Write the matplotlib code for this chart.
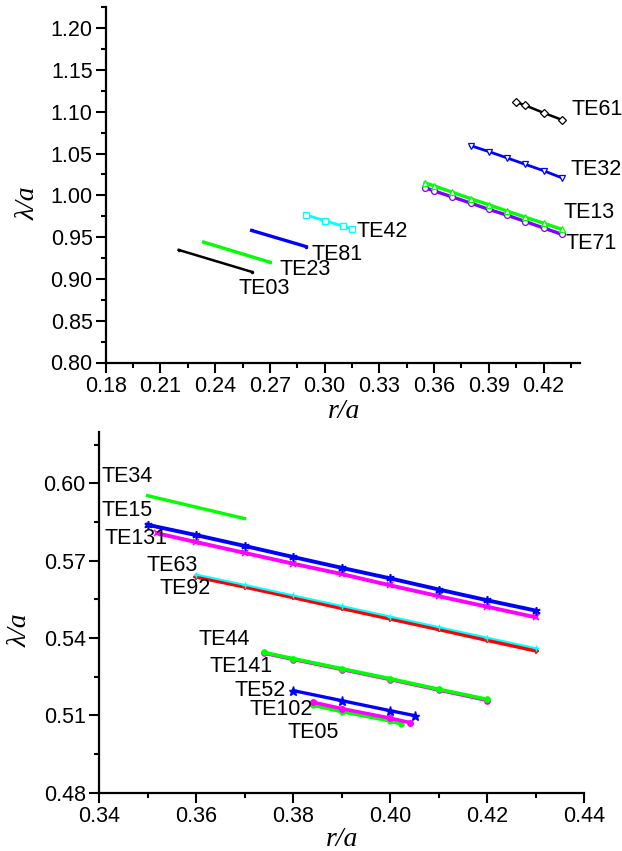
import matplotlib
matplotlib.use("Agg")
import matplotlib.pyplot as plt
from matplotlib.ticker import MultipleLocator, FormatStrFormatter

# ---------------- top panel data ----------------
te03_x = [0.22, 0.26]
te03_y = [0.9347, 0.9085]
te23_x = [0.2337, 0.27]
te23_y = [0.944, 0.920]
te81_x = [0.26, 0.29]
te81_y = [0.958, 0.9386]
te42_x = [0.29, 0.30, 0.31, 0.315]
te42_y = [0.9765, 0.9697, 0.9633, 0.9597]
te61_x = [0.405, 0.41, 0.42, 0.43]
te61_y = [1.1116, 1.1076, 1.0988, 1.0904]
te32_x = [0.38, 0.39, 0.40, 0.41, 0.42, 0.43]
te32_y = [1.0595, 1.0524, 1.0448, 1.0371, 1.0295, 1.0210]
te13_x = [0.355, 0.36, 0.37, 0.38, 0.39, 0.40, 0.41, 0.42, 0.43]
te13_y = [1.0150, 1.0114, 1.0037, 0.9961, 0.9888, 0.9812, 0.9739, 0.9667, 0.9594]
te71_x = [0.355, 0.36, 0.37, 0.38, 0.39, 0.40, 0.41, 0.42, 0.43]
te71_y = [1.0093, 1.0053, 0.9981, 0.9908, 0.9832, 0.9763, 0.9687, 0.9610, 0.9534]

top_labels = ["TE61", "TE32", "TE13", "TE71", "TE42", "TE81", "TE23", "TE03"]
top_label_x = [0.4352, 0.4346, 0.4311, 0.4322, 0.3174, 0.2929, 0.2750, 0.2526]
top_label_y = [1.103, 1.0304, 0.980, 0.9419, 0.9568, 0.9298, 0.9109, 0.8884]

# ---------------- bottom panel data ----------------
te34_x = [0.35, 0.37]
te34_y = [0.5952, 0.5863]
te15_x = [0.35, 0.36, 0.37, 0.38, 0.39, 0.40, 0.41, 0.42, 0.43]
te15_y = [0.5839, 0.5799, 0.5757, 0.5714, 0.5672, 0.5631, 0.5588, 0.5546, 0.5506]
te131_x = [0.352, 0.36, 0.37, 0.38, 0.39, 0.40, 0.41, 0.42, 0.43]
te131_y = [0.5806, 0.5772, 0.5730, 0.5688, 0.5648, 0.5604, 0.5562, 0.5521, 0.5480]
te63_x = [0.36, 0.37, 0.38, 0.39, 0.40, 0.41, 0.42, 0.43]
te63_y = [0.5646, 0.5606, 0.5565, 0.5524, 0.5483, 0.5442, 0.5401, 0.5360]
te92_x = [0.36, 0.37, 0.38, 0.39, 0.40, 0.41, 0.42, 0.43]
te92_y = [0.5638, 0.5599, 0.5558, 0.5516, 0.5475, 0.5434, 0.5392, 0.5351]
te44_x = [0.374, 0.38, 0.39, 0.40, 0.41, 0.42]
te44_y = [0.5344, 0.5320, 0.5281, 0.5242, 0.5201, 0.5162]
te141_x = [0.374, 0.38, 0.39, 0.40, 0.41, 0.42]
te141_y = [0.5340, 0.5316, 0.5277, 0.5238, 0.5197, 0.5157]
te52_x = [0.38, 0.39, 0.40, 0.405]
te52_y = [0.5196, 0.5157, 0.5118, 0.5099]
te102_x = [0.384, 0.39, 0.40, 0.404]
te102_y = [0.5151, 0.5126, 0.5089, 0.5072]
te05_x = [0.384, 0.39, 0.40, 0.4023]
te05_y = [0.5139, 0.5114, 0.5078, 0.5066]

bot_labels = ["TE34", "TE15", "TE131", "TE63", "TE92", "TE44", "TE141", "TE52", "TE102", "TE05"]
bot_label_x = [0.3406, 0.3406, 0.3412, 0.3498, 0.3524, 0.3605, 0.3627, 0.3680, 0.3711, 0.3788]
bot_label_y = [0.6028, 0.5893, 0.5784, 0.5682, 0.5593, 0.5395, 0.5289, 0.5198, 0.5121, 0.5033]

SANS = "Liberation Sans"
SERIF = "Liberation Serif"
TXT = 15.5

fig = plt.figure(figsize=(6.22, 8.51), dpi=100)
W, H = 622.0, 851.0


def style_axes(ax):
    for s in ("top", "right"):
        ax.spines[s].set_visible(False)
    for s in ("left", "bottom"):
        ax.spines[s].set_linewidth(1.6)
    ax.tick_params(which="major", direction="out", length=7, width=1.5,
                   labelsize=TXT, pad=2.5)
    ax.tick_params(which="minor", direction="out", length=3.5, width=1.5)
    for lab in ax.get_xticklabels() + ax.get_yticklabels():
        lab.set_fontfamily(SANS)


# ---------------- top axes ----------------
ax1 = fig.add_axes([105.7 / W, 1 - 362.5 / H, (580 - 105.7) / W, (362.5 - 7.3) / H])
ax1.set_xlim(0.18, 0.44)
ax1.set_ylim(0.80, 1.225)
ax1.xaxis.set_major_locator(MultipleLocator(0.03))
ax1.xaxis.set_minor_locator(MultipleLocator(0.015))
ax1.yaxis.set_major_locator(MultipleLocator(0.05))
ax1.yaxis.set_minor_locator(MultipleLocator(0.025))
ax1.xaxis.set_major_formatter(FormatStrFormatter("%.2f"))
ax1.yaxis.set_major_formatter(FormatStrFormatter("%.2f"))

ax1.plot(te03_x, te03_y, color="black", lw=1.8, marker="o", ms=1.5)
ax1.plot(te23_x, te23_y, color="#00ff00", lw=2.4, marker="o", ms=1.5)
ax1.plot(te81_x, te81_y, color="#0000ff", lw=2.4, marker="o", ms=1.5)
ax1.plot(te42_x, te42_y, color="#00ffff", lw=2.0, marker="s", ms=4.5, mfc="white", mew=1.0)
ax1.plot(te61_x, te61_y, color="black", lw=1.8, marker="D", ms=4, mfc="white", mew=0.9)
ax1.plot(te32_x, te32_y, color="#0000ff", lw=2.0, marker="v", ms=4.5, mfc="white", mew=0.9)
ax1.plot(te71_x, te71_y, color="#8000ff", lw=2.4, marker="o", ms=4.2, mfc="white", mew=0.9)
ax1.plot(te13_x, te13_y, color="#00ff00", lw=2.4, marker="^", ms=4.5, mfc="white", mew=0.9)

for t, x, y in zip(top_labels, top_label_x, top_label_y):
    ax1.text(x, y, t, fontsize=TXT, family=SANS, ha="left", va="center")

style_axes(ax1)
ax1.set_xlabel("r/a", fontsize=20, family=SERIF, style="italic", va="center")
ax1.set_ylabel("λ/a", fontsize=20, family=SERIF, style="italic", va="center")
ax1.xaxis.set_label_coords(0.502, -0.1385)
ax1.yaxis.set_label_coords(-0.164, 0.449)

# ---------------- bottom axes ----------------
ax2 = fig.add_axes([99.0 / W, 1 - 792.7 / H, (584.5 - 99.0) / W, (792.7 - 431.7) / H])
ax2.set_xlim(0.34, 0.44)
ax2.set_ylim(0.48, 0.62)
ax2.xaxis.set_major_locator(MultipleLocator(0.02))
ax2.xaxis.set_minor_locator(MultipleLocator(0.01))
ax2.yaxis.set_major_locator(MultipleLocator(0.03))
ax2.yaxis.set_minor_locator(MultipleLocator(0.015))
ax2.xaxis.set_major_formatter(FormatStrFormatter("%.2f"))
ax2.yaxis.set_major_formatter(FormatStrFormatter("%.2f"))

ax2.plot(te34_x, te34_y, color="#00ff00", lw=2.4)
ax2.plot(te131_x, te131_y, color="#ff00ff", lw=2.8, marker="x", ms=5, mew=1.2)
ax2.plot(te15_x, te15_y, color="#0000ff", lw=2.8, marker=(6, 2, 0), ms=6, mew=1.2)
ax2.plot(te92_x, te92_y, color="#ff0000", lw=3.0, marker="+", ms=5, mew=1.2)
ax2.plot(te63_x, te63_y, color="#00ffff", lw=1.5, marker="+", ms=5, mew=1.0)
ax2.plot(te141_x, te141_y, color="#ff00ff", lw=2.2, marker="o", ms=4, mew=0.8)
ax2.plot(te44_x, te44_y, color="#00ff00", lw=2.6, marker="o", ms=4, mew=0.8)
ax2.plot(te52_x, te52_y, color="#0000ff", lw=2.4, marker="*", ms=6.5)
ax2.plot(te05_x, te05_y, color="#00ff00", lw=2.4, marker="o", ms=3.5)
ax2.plot(te102_x, te102_y, color="#ff00ff", lw=2.6, marker="o", ms=4)

for t, x, y in zip(bot_labels, bot_label_x, bot_label_y):
    ax2.text(x, y, t, fontsize=TXT, family=SANS, ha="left", va="center")

style_axes(ax2)
ax2.set_xlabel("r/a", fontsize=20, family=SERIF, style="italic", va="center")
ax2.set_ylabel("λ/a", fontsize=20, family=SERIF, style="italic", va="center")
ax2.xaxis.set_label_coords(0.5005, -0.131)
ax2.yaxis.set_label_coords(-0.163, 0.451)

fig.savefig("out.png", dpi=100)
